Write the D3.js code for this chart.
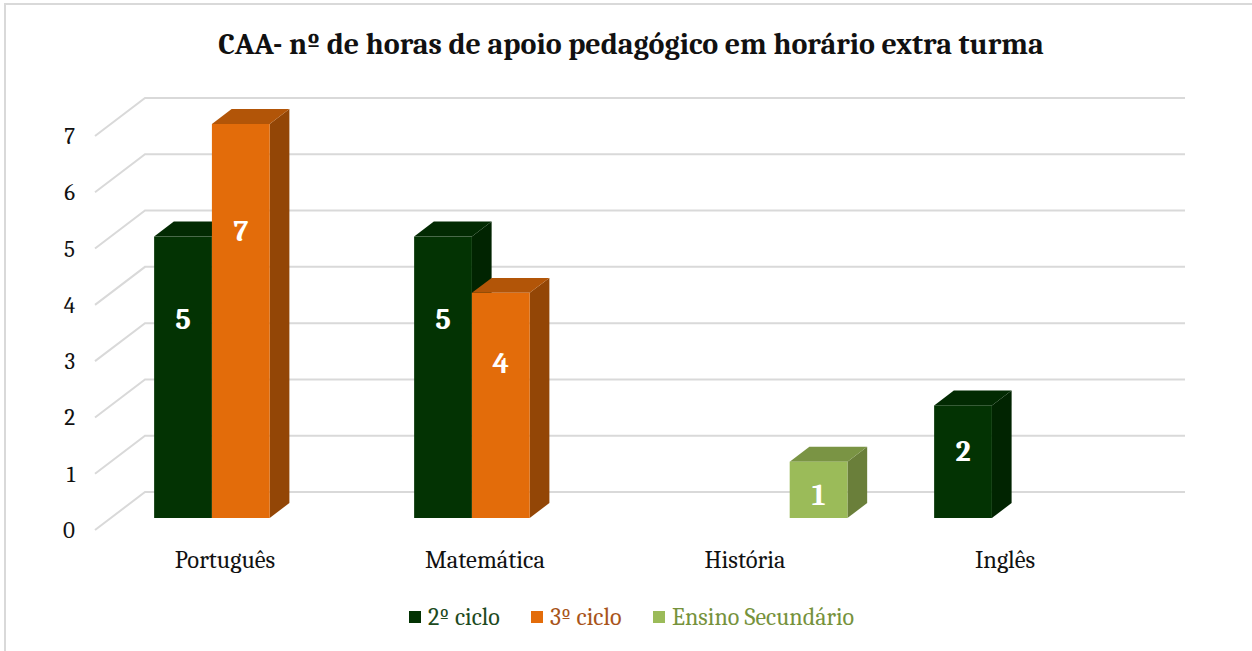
<!DOCTYPE html>
<html>
<head>
<meta charset="utf-8">
<script src="https://cdn.jsdelivr.net/npm/d3@7"></script>
<style>
    body { margin: 0; background: #fff; }
    svg { display: block; font-family: Cambria, "Liberation Serif", serif; }
</style>
</head>
<body>
<div id="chart"></div>
<script>
    // data
    const categories = ["Português", "Matemática", "História", "Inglês"];
    const seriesNames = ["2º ciclo", "3º ciclo", "Ensino Secundário"];
    const ciclo2 = [5, 5, null, 2];
    const ciclo3 = [7, 4, null, null];
    const secundario = [null, null, 1, null];
    const yTicks = [0, 1, 2, 3, 4, 5, 6, 7];

    const colors = {
        "2º ciclo":          { front: "#033303", side: "#012401", top: "#022a02", text: "#1d4a1d" },
        "3º ciclo":          { front: "#e36c0a", side: "#934606", top: "#b25508", text: "#a8541a" },
        "Ensino Secundário": { front: "#9bbb59", side: "#6a7f3a", top: "#7a9444", text: "#76923c" }
    };

    const width = 1252, height = 651;
    const depthX = 50, depthY = -38;      // full floor depth vector
    const barFront = 0.316, barBack = 0.71; // bar position inside depth

    const svg = d3.select("#chart").append("svg")
        .attr("width", width)
        .attr("height", height);

    // chart border
    svg.append("rect")
        .attr("x", 5).attr("y", 4)
        .attr("width", width).attr("height", height)
        .attr("fill", "none")
        .attr("stroke", "#d9d9d9")
        .attr("stroke-width", 2);

    svg.append("text")
        .attr("x", 631).attr("y", 54)
        .attr("text-anchor", "middle")
        .attr("font-weight", "bold")
        .attr("font-size", 30)
        .attr("fill", "#111")
        .text("CAA- nº de horas de apoio pedagógico em horário extra turma");

    // scales on the front plane
    const x0 = d3.scaleBand().domain(categories).range([95, 1135]);
    const bw = x0.bandwidth();
    const barW = bw / 4.5;
    const x1 = d3.scaleBand().domain(seriesNames).range([0, barW * 3]);
    const y = d3.scaleLinear().domain([0, 7]).range([530, 136]);

    // gridlines: side wall diagonal + back wall
    const grid = svg.append("g")
        .attr("stroke", "#d9d9d9")
        .attr("stroke-width", 2)
        .attr("fill", "none");

    grid.selectAll("path")
        .data(yTicks)
        .join("path")
        .attr("d", d => `M${x0.range()[0]},${y(d)} L${x0.range()[0] + depthX},${y(d) + depthY} L${x0.range()[1] + depthX},${y(d) + depthY}`);

    // y tick labels
    svg.append("g")
        .selectAll("text")
        .data(yTicks)
        .join("text")
        .attr("x", 75)
        .attr("y", d => y(d))
        .attr("dy", "0.35em")
        .attr("text-anchor", "end")
        .attr("font-size", 23)
        .attr("fill", "#111")
        .text(d => d);

    // category labels
    svg.append("g")
        .selectAll("text")
        .data(categories)
        .join("text")
        .attr("x", d => x0(d) + bw / 2)
        .attr("y", 568)
        .attr("text-anchor", "middle")
        .attr("font-size", 24.5)
        .attr("fill", "#111")
        .text(d => d);

    // bars
    const values = [ciclo2, ciclo3, secundario];
    const bars = [];
    categories.forEach((c, i) => {
        seriesNames.forEach((s, j) => {
            const v = values[j][i];
            if (v == null) return;
            bars.push({ cat: c, series: s, value: v });
        });
    });

    const fx = barFront * depthX, fy = barFront * depthY;
    const dx = (barBack - barFront) * depthX, dy = (barBack - barFront) * depthY;

    const barG = svg.append("g");
    bars.forEach(b => {
        const left = x0(b.cat) + (bw - barW * 3) / 2 + x1(b.series) + fx;
        const right = left + barW;
        const top = y(b.value) + fy;
        const bottom = y(0) + fy;
        const col = colors[b.series];
        const g = barG.append("g");

        g.append("path")
            .attr("d", `M${right},${top} L${right + dx},${top + dy} L${right + dx},${bottom + dy} L${right},${bottom} Z`)
            .attr("fill", col.side);
        g.append("path")
            .attr("d", `M${left},${top} L${left + dx},${top + dy} L${right + dx},${top + dy} L${right},${top} Z`)
            .attr("fill", col.top);
        g.append("rect")
            .attr("x", left).attr("y", top)
            .attr("width", barW).attr("height", bottom - top)
            .attr("fill", col.front);

        const h = bottom - top;
        g.append("text")
            .attr("x", left + barW / 2)
            .attr("y", top + 20 + 0.22 * h)
            .attr("dy", "0.35em")
            .attr("text-anchor", "middle")
            .attr("font-weight", "bold")
            .attr("font-size", 30)
            .attr("fill", "#fff")
            .text(b.value);
    });

    // legend
    const legendX = [409, 531, 653];
    const legend = svg.append("g")
        .selectAll("g")
        .data(seriesNames)
        .join("g")
        .attr("transform", (d, i) => `translate(${legendX[i]},617)`);

    legend.append("rect")
        .attr("x", 0).attr("y", -6)
        .attr("width", 12).attr("height", 12)
        .attr("fill", d => colors[d].front);

    legend.append("text")
        .attr("x", 19)
        .attr("dy", "0.35em")
        .attr("font-size", 24)
        .attr("fill", d => colors[d].text)
        .text(d => d);
</script>
</body>
</html>
